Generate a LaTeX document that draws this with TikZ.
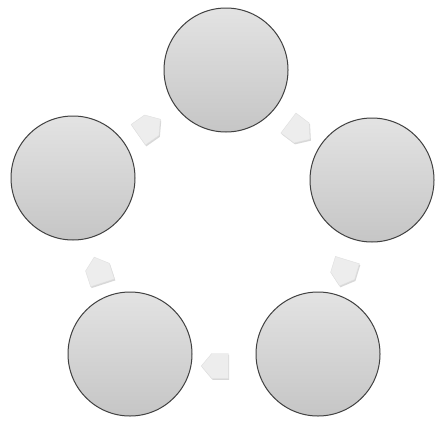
\documentclass[tikz,border=0pt]{standalone}
\usetikzlibrary{shapes.arrows,shadows}
\begin{document}
\begin{tikzpicture}[x=1pt,y=-1pt,
  bubble/.style={circle,minimum size=124pt,inner sep=0pt,
    top color=gray!22,bottom color=gray!45,
    draw=black!75,line width=1pt},
  flowarrow/.style={single arrow,single arrow head extend=0pt,
    single arrow tip angle=100,minimum height=27pt,minimum width=25pt,
    inner sep=0pt,fill=gray!14,draw=gray!25,line width=0.4pt,
    drop shadow={shadow xshift=0.9pt,shadow yshift=-1.4pt,opacity=0.3}}]
\useasboundingbox (0,0) rectangle (435,423);
\fill[white] (0,0) rectangle (435,423);
\node[bubble] (T) at (226,70) {};
\node[bubble] (L) at (73,178) {};
\node[bubble] (R) at (372,180) {};
\node[bubble] (BL) at (130,354) {};
\node[bubble] (BR) at (318,354) {};
\node[flowarrow,rotate=35] (a1) at (145,130) {};
\node[flowarrow,rotate=-37] (a2) at (295,128) {};
\node[flowarrow,rotate=-107] (a3) at (345,268) {};
\node[flowarrow,rotate=180] (a4) at (220,366) {};
\node[flowarrow,rotate=108] (a5) at (100,275) {};
\end{tikzpicture}
\end{document}
